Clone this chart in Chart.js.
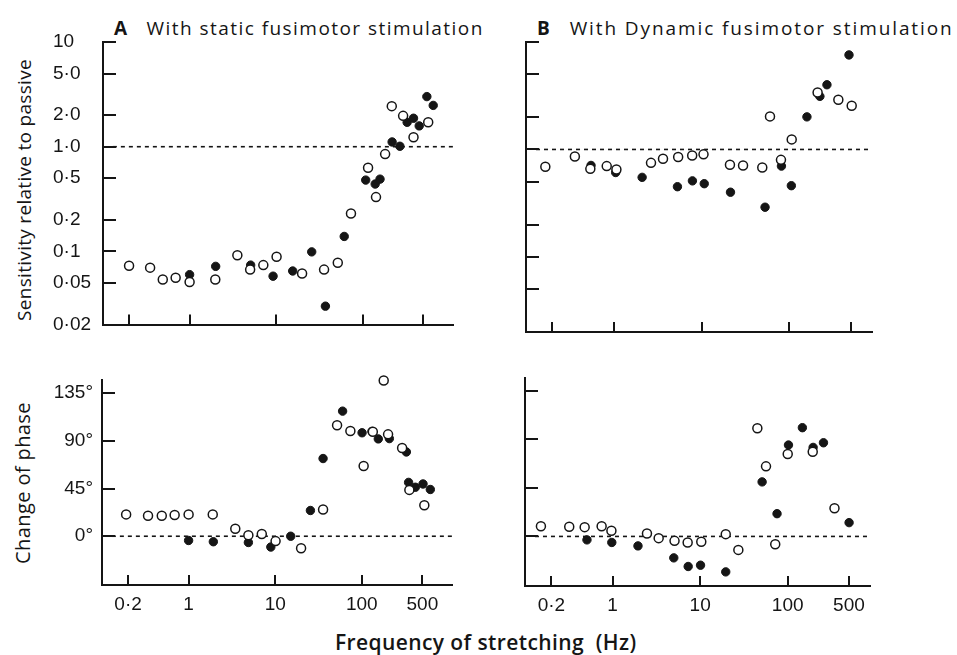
<!DOCTYPE html>
<html>
<head>
<meta charset="utf-8">
<script src="https://cdn.jsdelivr.net/npm/chart.js@4.4.0/dist/chart.umd.min.js"></script>
<style>
  body { margin:0; background:#fff; width:957px; height:655px; position:relative; overflow:hidden;
         font-family:'Open Sans', sans-serif; color:#151515; }
  canvas { position:absolute; }
  .txt { position:absolute; white-space:nowrap; font-size:19px; line-height:24px; }
  .title { font-weight:500; letter-spacing:1.45px; }
  .rot { transform:translate(-50%, -50%) rotate(-90deg); }
  .gap { margin-left:18px; }
</style>
</head>
<body>
<div class="txt title" style="left:114px;top:16px"><b>A</b><span class="gap">With static fusimotor stimulation</span></div>
<div class="txt title" style="left:537px;top:16px;letter-spacing:1.9px"><b>B</b><span class="gap">With Dynamic fusimotor stimulation</span></div>
<div class="txt rot" style="left:24px;top:190px;letter-spacing:0.3px">Sensitivity relative to passive</div>
<div class="txt rot" style="left:23px;top:483px;font-size:20px;letter-spacing:0.4px">Change of phase</div>
<div class="txt" style="left:335px;top:630px;font-size:21px;font-weight:600;letter-spacing:0.4px">Frequency of stretching&nbsp;&nbsp;(Hz)</div>

<canvas id="aSens"  width="465" height="345" style="left:0;top:0"></canvas>
<canvas id="bSens"  width="400" height="345" style="left:480px;top:0"></canvas>
<canvas id="aPhase" width="465" height="295" style="left:0;top:360px"></canvas>
<canvas id="bPhase" width="400" height="295" style="left:480px;top:360px"></canvas>

<script>
// ── Axes ────────────────────────────────────────────────────────────────────
const xTicks          = [0.2, 1, 10, 100, 500];
const xTickLabels     = ['0·2', '1', '10', '100', '500'];
const sensTicks       = [0.02, 0.05, 0.1, 0.2, 0.5, 1, 2, 5, 10];
const sensTickLabels  = ['0·02', '0·05', '0·1', '0·2', '0·5', '1·0', '2·0', '5·0', '10'];
const phaseTicks      = [0, 45, 90, 135];
const phaseTickLabels = ['0°', '45°', '90°', '135°'];

// dashed reference lines (sensitivity = 1, phase change = 0)
const aRefF  = [0.13, 1100];
const bRefF  = [0.13, 870];
const sensRef  = [1, 1];
const phaseRef = [0, 0];

// ── A: static fusimotor, sensitivity ───────────────────────────────────────
const aSensOpenF = [0.2, 0.35, 0.49, 0.69, 1.0, 1.98, 3.56, 5.0, 7.1, 10.1, 19.9, 35.7, 51.4, 73, 115, 142, 181, 216, 292, 385, 569];
const aSensOpenV = [0.073, 0.070, 0.054, 0.056, 0.051, 0.054, 0.092, 0.067, 0.074, 0.089, 0.0615, 0.067, 0.078, 0.23, 0.63, 0.33, 0.85, 2.44, 1.97, 1.23, 1.71];
const aSensFillF = [1.0, 2.0, 5.07, 9.2, 15.5, 25.7, 37, 61, 108, 139, 158, 218, 268, 325, 385, 448, 549, 650];
const aSensFillV = [0.060, 0.072, 0.074, 0.058, 0.065, 0.099, 0.030, 0.139, 0.48, 0.44, 0.49, 1.11, 1.01, 1.71, 1.87, 1.58, 3.01, 2.48];

// ── B: dynamic fusimotor, sensitivity ──────────────────────────────────────
const bSensOpenF = [0.166, 0.36, 0.54, 0.83, 1.07, 2.65, 3.63, 5.4, 7.8, 10.5, 21, 29.6, 49, 60, 80, 106, 209, 360, 511];
const bSensOpenV = [0.69, 0.86, 0.66, 0.70, 0.65, 0.75, 0.82, 0.85, 0.88, 0.90, 0.72, 0.71, 0.68, 2.03, 0.80, 1.24, 3.39, 2.9, 2.55];
const bSensFillF = [0.55, 1.05, 2.1, 5.3, 7.85, 10.7, 21.3, 52.7, 81, 105, 158, 222, 267, 476];
const bSensFillV = [0.71, 0.61, 0.55, 0.45, 0.51, 0.48, 0.40, 0.29, 0.70, 0.46, 2.01, 3.12, 4.0, 7.58];

// ── A: static fusimotor, phase ─────────────────────────────────────────────
const aPhaseOpenF = [0.19, 0.34, 0.49, 0.69, 1.0, 1.9, 3.46, 4.9, 7.0, 10.1, 19.9, 35.7, 51.8, 73.8, 105, 134, 179, 201, 292, 354, 527];
const aPhaseOpenV = [20.6, 19.4, 19.4, 20.0, 20.6, 20.6, 7.1, 0.9, 2.1, -4.6, -11.4, 25.2, 104.7, 99.2, 66.2, 98.6, 146.9, 96.1, 83.2, 43.7, 29.3];
const aPhaseFillF = [1.0, 1.93, 4.9, 8.9, 15.1, 25.5, 35.7, 60, 100.7, 131, 155, 208, 327, 347, 415, 509, 618];
const aPhaseFillV = [-4.0, -5.2, -5.9, -10.2, 0, 24.3, 73.3, 118, 97.6, 98.9, 91.8, 92.1, 79.5, 50.8, 46.2, 49.3, 44.1];

// ── B: dynamic fusimotor, phase ────────────────────────────────────────────
const bPhaseOpenF = [0.152, 0.32, 0.48, 0.75, 0.97, 2.47, 3.36, 5.1, 7.2, 10.3, 19.6, 27.3, 45, 56.5, 72, 100, 193, 342];
const bPhaseOpenV = [9.5, 8.9, 8.6, 9.5, 5.2, 2.7, -1.6, -4.1, -5.6, -5.0, 2.1, -12.5, 100.4, 65.0, -7.2, 76.5, 78.6, 26.1];
const bPhaseFillF = [0.51, 0.98, 1.95, 5.0, 7.3, 10.1, 19.6, 51, 75.5, 102, 147, 195, 256, 502];
const bPhaseFillV = [-3.2, -5.6, -8.8, -19.9, -27.9, -26.7, -32.9, 50.6, 21.1, 84.8, 100.9, 82.6, 86.9, 12.8];

const INK = '#151515';
const zip = (xs, ys) => xs.map((x, i) => ({ x, y: ys[i] }));

// ticks drawn inside the plot, from the axis line
const inwardTicks = {
  id: 'inwardTicks',
  afterDraw(chart) {
    const { ctx, chartArea: a, scales: { x, y } } = chart;
    ctx.save();
    ctx.strokeStyle = INK;
    ctx.lineWidth   = 2;
    ctx.beginPath();
    x.ticks.forEach(t => {
      const px = Math.round(x.getPixelForValue(t.value));
      ctx.moveTo(px, a.bottom);
      ctx.lineTo(px, a.bottom - 10);
    });
    y.ticks.forEach(t => {
      const py = Math.round(y.getPixelForValue(t.value));
      ctx.moveTo(a.left, py);
      ctx.lineTo(a.left + 13, py);
    });
    ctx.stroke();
    ctx.restore();
  },
};

function buildPanel(id, p) {
  const canvas = document.getElementById(id);
  return new Chart(canvas.getContext('2d'), {
    type: 'scatter',
    data: {
      datasets: [
        { data: zip(p.openF, p.openV), pointRadius: 4.5, backgroundColor: '#fff', borderColor: INK, borderWidth: 1.5, clip: false },
        { data: zip(p.fillF, p.fillV), pointRadius: 4.2, backgroundColor: INK, borderColor: INK, borderWidth: 1, clip: false },
        { type: 'line', data: zip(p.refF, p.refV), borderColor: INK, borderWidth: 1.6, borderDash: [4, 4],
          pointRadius: 0, fill: false, clip: false },
      ],
    },
    options: {
      responsive: false,
      animation:  false,
      events:     [],
      layout:  { padding: p.pad, autoPadding: false },
      plugins: { legend: { display: false }, tooltip: { enabled: false } },
      scales: {
        x: {
          type: 'logarithmic', min: 0.1, max: p.xMax, bounds: 'data',
          grid:   { display: false, drawTicks: false },
          border: { display: true, color: INK, width: 2 },
          afterBuildTicks: s => { s.ticks = xTicks.map(v => ({ value: v })); },
          afterFit:        s => { s.height = p.xH; },
          ticks: { display: p.xLabels, padding: 8, maxRotation: 0, autoSkip: false, color: INK,
                   font: { size: 19 }, callback: (v, i) => xTickLabels[i] },
        },
        y: {
          type: p.yType, min: p.yMin, max: p.yMax, bounds: 'data',
          grid:   { display: false, drawTicks: false },
          border: { display: true, color: INK, width: 2 },
          afterBuildTicks: s => { s.ticks = p.yTicks.map(v => ({ value: v })); },
          afterFit:        s => { s.width = p.yW; },
          ticks: { display: !!p.yLabels, crossAlign: p.cross || 'near', padding: 9, autoSkip: false, color: INK,
                   font: { size: 19 }, callback: (v, i) => (p.yLabels ? p.yLabels[i] : '') },
        },
      },
    },
    plugins: [inwardTicks],
  });
}

// ── Panels ─────────────────────────────────────────────────────────────────
buildPanel('aSens', {
  openF: aSensOpenF, openV: aSensOpenV, fillF: aSensFillF, fillV: aSensFillV, refF: aRefF, refV: sensRef,
  yType: 'logarithmic', yMin: 0.02, yMax: 10, yTicks: sensTicks, yLabels: sensTickLabels, cross: 'far',
  xMax: 1100, xLabels: false, xH: 13, yW: 50, pad: { left: 53, top: 42, right: 12, bottom: 0 },
});
buildPanel('bSens', {
  openF: bSensOpenF, openV: bSensOpenV, fillF: bSensFillF, fillV: bSensFillV, refF: bRefF, refV: sensRef,
  yType: 'logarithmic', yMin: 0.02, yMax: 10, yTicks: sensTicks, yLabels: null,
  xMax: 870, xLabels: false, xH: 13, yW: 46, pad: { left: 0, top: 42, right: 8, bottom: 0 },
});
buildPanel('aPhase', {
  openF: aPhaseOpenF, openV: aPhaseOpenV, fillF: aPhaseFillF, fillV: aPhaseFillV, refF: aRefF, refV: phaseRef,
  yType: 'linear', yMin: -46, yMax: 147, yTicks: phaseTicks, yLabels: phaseTickLabels,
  xMax: 1100, xLabels: true, xH: 70, yW: 102, pad: { left: 0, top: 17, right: 13, bottom: 0 },
});
buildPanel('bPhase', {
  openF: bPhaseOpenF, openV: bPhaseOpenV, fillF: bPhaseFillF, fillV: bPhaseFillV, refF: bRefF, refV: phaseRef,
  yType: 'linear', yMin: -46, yMax: 147, yTicks: phaseTicks, yLabels: null,
  xMax: 870, xLabels: true, xH: 69, yW: 45, pad: { left: 0, top: 18, right: 10, bottom: 0 },
});
</script>
</body>
</html>
